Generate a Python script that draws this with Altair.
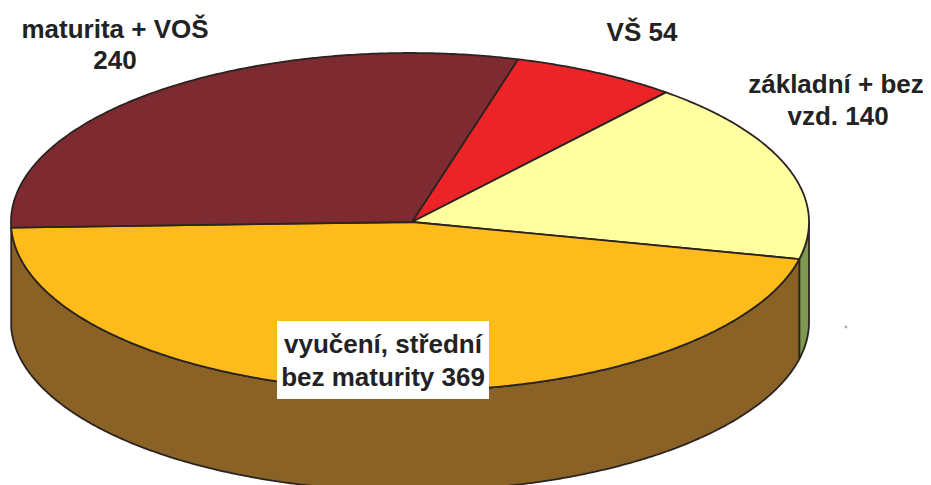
import math
import altair as alt
import pandas as pd

# Data
categories = ["VŠ", "základní + bez vzd.", "vyučení, střední bez maturity", "maturita + VOŠ"]
values = [54, 140, 369, 240]
face_colors = ["#ec2428", "#ffffa0", "#fdbb1c", "#7d2a30"]
wall_colors = {"základní + bez vzd.": "#7f9a50", "vyučení, střední bez maturity": "#8a6226"}

label_lines = ["maturita + VOŠ", "240", "VŠ 54", "základní + bez", "vzd. 140", "vyučení, střední", "bez maturity 369"]
label_x = [115, 115, 642, 836, 838, 383, 383]
label_y = [30, 61, 33, 85, 117, 345, 378]

# Page-pixel frame of the picture (the page margin is 8 px)
W, H = 915, 477
x_scale = alt.Scale(domain=[8, 8 + W], range=[0, W], nice=False, zero=False)
y_scale = alt.Scale(domain=[8, 8 + H], range=[0, H], nice=False, zero=False)
X = lambda f: alt.X(f, type="quantitative", scale=x_scale, axis=None)
Y = lambda f: alt.Y(f, type="quantitative", scale=y_scale, axis=None)

CX, CY, RX, RY, DEPTH = 410, 222, 399, 169, 100
APEX_X = 412
START = 74.3
STROKE = "#2b2320"


def pt(t, dy=0):
    r = math.radians(t)
    return CX + RX * math.cos(r), CY - RY * math.sin(r) + dy


def arc(a, b, dy=0):
    n = max(2, int(abs(a - b) * 2))
    return [pt(a + (b - a) * k / n, dy) for k in range(n + 1)]


def polygon(points, color):
    df = pd.DataFrame(points, columns=["x", "y"])
    df["i"] = range(len(df))
    return alt.Chart(df).mark_line(
        fill=color, stroke=STROKE, strokeWidth=1.8, clip=True, strokeJoin="round", interpolate="linear"
    ).encode(x=X("x"), y=Y("y"), order=alt.Order("i:Q"))


total = sum(values)
angles = [START]
for v in values:
    angles.append(angles[-1] - v / total * 360)

layers = []
# Side wall: visible only on the front half of the ellipse
for cat, a, b in zip(categories, angles[:-1], angles[1:]):
    if cat in wall_colors:
        lo = min(a, 0)
        hi = max(b, -180)
        pts = arc(lo, hi) + arc(hi, lo, DEPTH)
        pts.append(pts[0])
        layers.append(polygon(pts, wall_colors[cat]))
# Top face
for color, a, b in zip(face_colors, angles[:-1], angles[1:]):
    pts = [(APEX_X, CY)] + arc(a, b)
    pts.append(pts[0])
    layers.append(polygon(pts, color))

box = pd.DataFrame({"x": [277], "x2": [489], "y": [321], "y2": [399]})
layers.append(
    alt.Chart(box).mark_rect(color="white").encode(x=X("x"), x2="x2", y=Y("y"), y2="y2")
)
speck = pd.DataFrame({"x": [846], "y": [327]})
layers.append(
    alt.Chart(speck).mark_point(filled=True, color="#8a8a8a", size=8).encode(x=X("x"), y=Y("y"))
)
labels = pd.DataFrame({"t": label_lines, "x": label_x, "y": label_y})
layers.append(
    alt.Chart(labels).mark_text(
        font="Liberation Sans", fontWeight="bold", fontSize=26, color="#222222",
        align="center", baseline="middle",
    ).encode(x=X("x"), y=Y("y"), text="t:N")
)

chart = (
    alt.layer(*layers)
    .properties(width=W, height=H, padding=0, autosize=alt.AutoSizeParams(type="none"), background="white")
    .configure_view(stroke=None)
)
chart.save("out.html", embed_options={"renderer": "svg", "actions": False})
